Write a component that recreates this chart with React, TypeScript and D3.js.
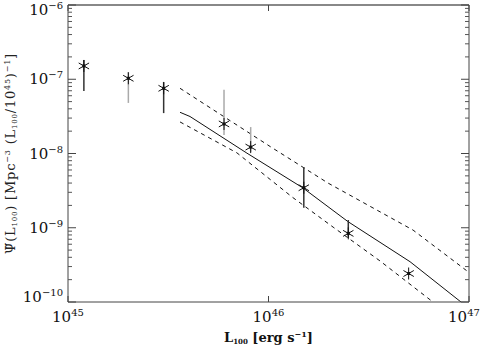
// App.tsx
import React from 'react';
import * as d3 from 'd3';

const width = 485;
const height = 345;
const plotLeft = 68;
const plotRight = 469;
const plotTop = 5;
const plotBottom = 302;

// binned estimates (asterisks) with their error bars
const lumValues = [1.2e45, 2.0e45, 3.0e45, 6.0e45, 8.15e45, 1.5e46, 2.5e46, 5.0e46];
const psiValues = [1.51e-7, 1.03e-7, 7.55e-8, 2.5e-8, 1.22e-8, 3.46e-9, 8.4e-10, 2.42e-10];
const psiUpper = [1.82e-7, 1.25e-7, 9.2e-8, 7.2e-8, 2.27e-8, 6.6e-9, 1.27e-9, null];
const psiLower = [6.95e-8, 4.8e-8, 3.5e-8, 1.77e-8, 1.05e-8, 1.86e-9, 7.3e-10, null];

// model curve and its dashed envelope
const modelLum = [3.62e45, 4.06e45, 7.81e45, 1.487e46, 2.49e46, 5.08e46, 9.12e46];
const modelPsi = [3.59e-8, 3.15e-8, 1.01e-8, 3.43e-9, 1.21e-9, 3.49e-10, 1.0e-10];
const upperLum = [3.62e45, 1.02e46, 1.98e46, 5.26e46, 1e47];
const upperPsi = [7.55e-8, 1.24e-8, 4.0e-9, 9.3e-10, 2.5e-10];
const lowerLum = [3.62e45, 6.96e45, 1.31e46, 2.1e46, 3.6e46, 6.61e46];
const lowerPsi = [2.66e-8, 1.02e-8, 2.6e-9, 1.02e-9, 3.57e-10, 1.0e-10];

// tick exponents
const xExponents = [45, 46, 47];
const yExponents = [-6, -7, -8, -9, -10];

const faintBar = [false, true, false, true, true, false, false, false];
const font = '"DejaVu Serif", "Liberation Serif", serif';

const x = d3.scaleLog().domain([1e45, 1e47]).range([plotLeft, plotRight]);
const y = d3.scaleLog().domain([1e-10, 1e-6]).range([plotBottom, plotTop]);

const Asterisk = ({ cx, cy }) => {
  const r = 6;
  const dx = r * Math.cos(Math.PI / 6);
  const dy = r * Math.sin(Math.PI / 6);
  return (
    <g stroke="#111" strokeWidth={1}>
      <line x1={cx} y1={cy - r} x2={cx} y2={cy + r} />
      <line x1={cx - dx} y1={cy - dy} x2={cx + dx} y2={cy + dy} />
      <line x1={cx - dx} y1={cy + dy} x2={cx + dx} y2={cy - dy} />
      <rect x={cx - 1.5} y={cy - 1.5} width={3} height={3} fill="#111" stroke="none" />
    </g>
  );
};

const Axes = () => {
  const minorY = [];
  for (let e = -10; e < -6; e++) {
    for (let m = 2; m <= 9; m++) minorY.push(m * Math.pow(10, e));
  }
  return (
    <g>
      <line x1={plotLeft} y1={plotTop} x2={plotRight} y2={plotTop} stroke="#888" strokeWidth={2} />
      <line x1={plotLeft} y1={plotBottom} x2={plotRight} y2={plotBottom} stroke="#444" />
      <line x1={plotLeft} y1={plotTop} x2={plotLeft} y2={plotBottom} stroke="#444" />
      <line x1={plotRight} y1={plotTop} x2={plotRight} y2={plotBottom} stroke="#444" />

      {yExponents.map((e) => {
        const py = y(Math.pow(10, e));
        return (
          <g key={e}>
            <line x1={plotLeft} x2={plotLeft + 8} y1={py} y2={py} stroke="#444" />
            <line x1={plotRight} x2={plotRight - 8} y1={py} y2={py} stroke="#444" />
          </g>
        );
      })}
      {minorY.map((v, i) => (
        <g key={i}>
          <line x1={plotLeft} x2={plotLeft + 4} y1={y(v)} y2={y(v)} stroke="#555" />
          <line x1={plotRight} x2={plotRight - 4} y1={y(v)} y2={y(v)} stroke="#555" />
        </g>
      ))}
      {xExponents.map((e) => {
        const px = x(Math.pow(10, e));
        return (
          <g key={e}>
            <line x1={px} x2={px} y1={plotBottom} y2={plotBottom - 6} stroke="#444" />
            <line x1={px} x2={px} y1={plotTop} y2={plotTop + 6} stroke="#444" />
          </g>
        );
      })}

      {/* tick labels */}
      {yExponents.map((e) => {
        const py = Math.min(Math.max(y(Math.pow(10, e)) + 5, 15), plotBottom);
        return (
          <text key={e} x={63} y={py} textAnchor="end" fontSize={15} fill="#111">
            <tspan>10</tspan>
            <tspan dy={-6} fontSize={10}>{'\u2212' + Math.abs(e)}</tspan>
          </text>
        );
      })}
      {xExponents.map((e) => {
        const px = Math.min(Math.max(x(Math.pow(10, e)), 67), 464);
        return (
          <text key={e} x={px} y={322} textAnchor="middle" fontSize={15} fill="#111">
            <tspan>10</tspan>
            <tspan dy={-6} fontSize={10}>{e}</tspan>
          </text>
        );
      })}

      {/* axis titles */}
      <text x={(plotLeft + plotRight) / 2} y={342} textAnchor="middle" fontSize={13} fontWeight="bold" fill="#111">
        <tspan>L</tspan>
        <tspan dy={2} fontSize={7}>100</tspan>
        <tspan dy={-2}> [erg  s</tspan>
        <tspan dy={-5} fontSize={8}>{'\u2212'}1</tspan>
        <tspan dy={5}>]</tspan>
      </text>
      <text
        transform={`translate(15, ${(plotTop + plotBottom) / 2}) rotate(-90)`}
        textAnchor="middle"
        fontSize={13}
        letterSpacing={0.8}
        fill="#222"
      >
        <tspan>{'\u03A8\u0303'}(L</tspan>
        <tspan dy={2} fontSize={7}>100</tspan>
        <tspan dy={-2}>)  [Mpc</tspan>
        <tspan dy={-5} fontSize={8}>{'\u2212'}3</tspan>
        <tspan dy={5}>  (L</tspan>
        <tspan dy={2} fontSize={7}>100</tspan>
        <tspan dy={-2}>/10</tspan>
        <tspan dy={-5} fontSize={8}>45</tspan>
        <tspan dy={5}>)</tspan>
        <tspan dy={-5} fontSize={8}>{'\u2212'}1</tspan>
        <tspan dy={5}>]</tspan>
      </text>
    </g>
  );
};

const App = () => {
  const line = d3
    .line()
    .x((d) => x(d[0]))
    .y((d) => y(d[1]));

  const model = modelLum.map((l, i) => [l, modelPsi[i]]);
  const upper = upperLum.map((l, i) => [l, upperPsi[i]]);
  const lower = lowerLum.map((l, i) => [l, lowerPsi[i]]);

  return (
    <svg
      width={width}
      height={height}
      style={{ position: 'absolute', left: 0, top: 0, background: '#fff', fontFamily: font }}
    >
      <defs>
        <clipPath id="plotClip">
          <rect x={plotLeft} y={plotTop} width={plotRight - plotLeft} height={plotBottom - plotTop} />
        </clipPath>
      </defs>

      <g clipPath="url(#plotClip)" fill="none">
        <path d={line(model)} stroke="#111" strokeWidth={1} />
        <path d={line(upper)} stroke="#111" strokeWidth={1} strokeDasharray="4,4" />
        <path d={line(lower)} stroke="#111" strokeWidth={1} strokeDasharray="4,4" />
      </g>

      {lumValues.map((l, i) => (
        <g key={i}>
          {psiUpper[i] != null && (
            <line
              x1={x(l)}
              x2={x(l)}
              y1={y(psiUpper[i])}
              y2={y(psiLower[i])}
              stroke={faintBar[i] ? '#aaa' : '#333'}
              strokeWidth={1.5}
            />
          )}
          <Asterisk cx={x(l)} cy={y(psiValues[i])} />
        </g>
      ))}

      <Axes />
    </svg>
  );
};

export default App;
